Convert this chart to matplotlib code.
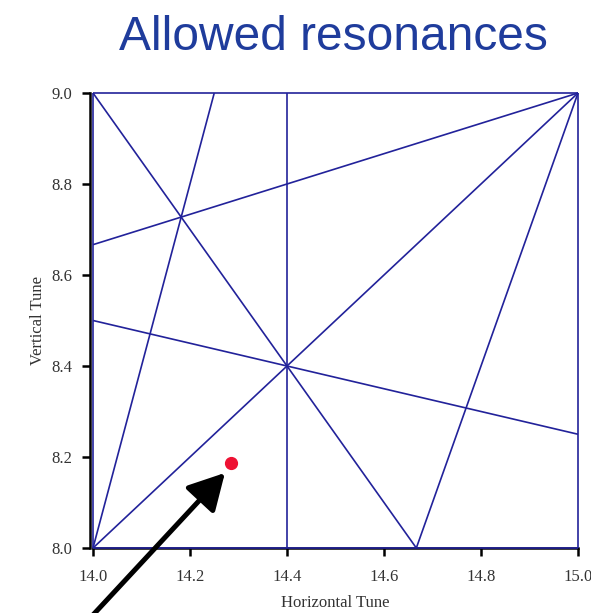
import numpy as np
import matplotlib
matplotlib.use("Agg")
import matplotlib.pyplot as plt

# Resonance lines a*Qx + b*Qy = c
res_a = [1, 1, 0, 0, 1, 3, 4, 1, 1, 3, 5]
res_b = [0, 0, 1, 1, -1, 2, -1, -3, 4, -1, 0]
res_c = [14, 15, 8, 9, 6, 60, 48, -12, 48, 36, 72]

# Working point and tick values
work_qx, work_qy = 14.285, 8.186
x_ticks = [14.0, 14.2, 14.4, 14.6, 14.8, 15.0]
y_ticks = [8.0, 8.2, 8.4, 8.6, 8.8, 9.0]

QX_MIN, QX_MAX, QY_MIN, QY_MAX = 14.0, 15.0, 8.0, 9.0

line_color = "#22229a"
serif = ["Liberation Serif", "DejaVu Serif"]


def clip_to_box(a, b, c):
    """Endpoints of a*x + b*y = c inside the tune square."""
    pts = []
    if b != 0:
        for x in (QX_MIN, QX_MAX):
            y = (c - a * x) / b
            if QY_MIN - 1e-9 <= y <= QY_MAX + 1e-9:
                pts.append((x, y))
    if a != 0:
        for y in (QY_MIN, QY_MAX):
            x = (c - b * y) / a
            if QX_MIN - 1e-9 <= x <= QX_MAX + 1e-9:
                pts.append((x, y))
    pts = sorted(set((round(p[0], 9), round(p[1], 9)) for p in pts))
    return pts[0], pts[-1]


fig = plt.figure(figsize=(5.91, 6.13), dpi=100)
ax = fig.add_axes([93 / 591, 1 - 548 / 613, 485 / 591, 455 / 613])
ax.set_xlim(QX_MIN, QX_MAX)
ax.set_ylim(QY_MIN, QY_MAX)

for a, b, c in zip(res_a, res_b, res_c):
    p0, p1 = clip_to_box(a, b, c)
    ax.plot([p0[0], p1[0]], [p0[1], p1[1]], color=line_color, lw=1.2,
            zorder=3, clip_on=False, solid_capstyle="butt")

ax.plot([work_qx], [work_qy], "o", color="#ee1133", ms=8.5, zorder=5)

ax.annotate("", xy=(14.272, 8.165), xytext=(13.994, 7.846),
            xycoords="data", textcoords="data", annotation_clip=False,
            arrowprops=dict(arrowstyle="-|>,head_length=0.55,head_width=0.3",
                            color="black", lw=3.6,
                            mutation_scale=40, shrinkA=0, shrinkB=0),
            zorder=6)

for side in ("top", "right"):
    ax.spines[side].set_visible(False)
ax.spines["left"].set_position(("outward", 2))
for side in ("left", "bottom"):
    ax.spines[side].set_linewidth(1.8)
    ax.spines[side].set_color("black")
    ax.spines[side].set_zorder(2)

ax.set_xticks(x_ticks)
ax.set_yticks(y_ticks)
ax.set_xticklabels([f"{v:.1f}" for v in x_ticks], family=serif, fontsize=12, color="#333333")
ax.set_yticklabels([f"{v:.1f}" for v in y_ticks], family=serif, fontsize=12, color="#333333")
ax.tick_params(axis="x", direction="out", length=6, width=1.8, color="black", pad=9)
ax.tick_params(axis="y", direction="out", length=6, width=1.8, color="black", pad=7)

ax.set_xlabel("Horizontal Tune", family=serif, fontsize=12, color="#333333", labelpad=7)
ax.set_ylabel("Vertical Tune", family=serif, fontsize=12, color="#333333", labelpad=4)

fig.text(333 / 591, 1 - 37 / 613, "Allowed resonances", ha="center", va="center",
         fontsize=34.5, color="#1f3c9c", family=["Liberation Sans", "DejaVu Sans"])

fig.savefig("out.png", dpi=100)
